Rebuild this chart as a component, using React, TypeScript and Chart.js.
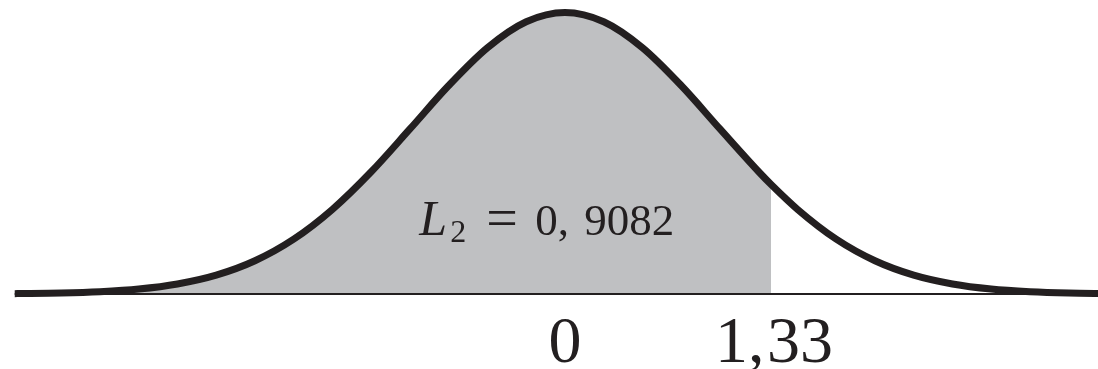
import React, { useEffect, useRef } from "react";
import { Chart, registerables } from "chart.js";

Chart.register(...registerables);

// Standard-normal-like bell curve, sampled along the z axis
const zValues = [
  -3.55, -3.5, -3.25, -3, -2.75, -2.5, -2.25, -2, -1.75, -1.5, -1.25, -1, -0.75, -0.5, -0.25,
  0, 0.25, 0.5, 0.75, 1, 1.25, 1.33, 1.5, 1.75, 2, 2.25, 2.5, 2.75, 3, 3.25, 3.5,
];
const densityValues = [
  0.0005, 0.0006, 0.0014, 0.0033, 0.007, 0.0142, 0.0267, 0.0471, 0.0777, 0.12, 0.1732, 0.2339,
  0.2954, 0.349, 0.3858, 0.3989, 0.3858, 0.349, 0.2954, 0.2339, 0.1732, 0.1551, 0.12, 0.0777,
  0.0471, 0.0267, 0.0142, 0.007, 0.0033, 0.0014, 0.0006,
];

// Shaded area ends at this z value
const cutoff = 1.33;
const areaLabel = "0, 9082";
const tickLabels = [
  { value: 0, text: "0" },
  { value: 1.33, text: "1, 33" },
];

const INK = "#231f20";
const SHADE = "#bfc0c2";

const textPlugin = {
  id: "curveText",
  afterDatasetsDraw(chart: any) {
    const { ctx, scales } = chart;
    const xs = scales.x;
    const ys = scales.y;
    ctx.save();
    ctx.fillStyle = INK;
    ctx.textBaseline = "alphabetic";
    ctx.textAlign = "left";

    // Area label: L_2 = 0, 9082
    const lx = xs.getPixelForValue(-0.92);
    const ly = ys.getPixelForValue(0.0836);
    ctx.font = "italic 50px 'Liberation Serif'";
    ctx.fillText("L", lx - 3, ly);
    ctx.font = "32px 'Liberation Serif'";
    ctx.fillText("2", lx + 28, ly + 7);
    ctx.font = "56px 'Liberation Serif'";
    ctx.fillText("=", lx + 64, ly + 2);
    ctx.font = "45px 'Liberation Serif'";
    const parts = areaLabel.split(" ");
    ctx.fillText(parts[0], lx + 113, ly);
    ctx.fillText(parts[1], lx + 162, ly);

    // Axis labels under the baseline
    ctx.font = "66px 'Liberation Serif'";
    const by = ys.getPixelForValue(0) + 68;
    tickLabels.forEach((t) => {
      const px = xs.getPixelForValue(t.value);
      const pieces = t.text.split(" ");
      if (pieces.length === 1) {
        ctx.textAlign = "center";
        ctx.fillText(pieces[0], px, by);
      } else {
        ctx.textAlign = "left";
        ctx.fillText(pieces[0], px - 56, by);
        ctx.fillText(pieces[1], px - 4, by);
      }
    });
    ctx.restore();
  },
};

export default function App() {
  const canvasRef = useRef<HTMLCanvasElement | null>(null);

  useEffect(() => {
    if (!canvasRef.current) return;
    const curve = zValues.map((z, i) => ({ x: z, y: densityValues[i] }));
    const shaded = zValues.map((z, i) => ({ x: z, y: z <= cutoff ? densityValues[i] : null }));
    const baseline = [
      { x: zValues[0], y: 0 },
      { x: zValues[zValues.length - 1], y: 0 },
    ];

    const chart = new Chart(canvasRef.current, {
      type: "line",
      data: {
        datasets: [
          {
            data: shaded as any,
            fill: "origin",
            backgroundColor: SHADE,
            borderWidth: 0,
            pointRadius: 0,
            cubicInterpolationMode: "monotone",
            spanGaps: false,
            order: 3,
          },
          {
            data: baseline,
            borderColor: INK,
            borderWidth: 2.2,
            pointRadius: 0,
            fill: false,
            order: 2,
          },
          {
            data: curve,
            borderColor: INK,
            borderWidth: 7,
            pointRadius: 0,
            fill: false,
            cubicInterpolationMode: "monotone",
            order: 1,
          },
        ],
      },
      options: {
        animation: false,
        responsive: false,
        devicePixelRatio: 1,
        layout: { padding: 0 },
        plugins: { legend: { display: false }, tooltip: { enabled: false } },
        scales: {
          x: { type: "linear", min: -3.645, max: 3.439, display: false },
          y: { type: "linear", min: -0.1063, max: 0.4166, display: false },
        },
      },
      plugins: [textPlugin],
    });
    return () => chart.destroy();
  }, []);

  return (
    <div style={{ position: "absolute", left: 0, top: 0, width: 1098, height: 369, background: "#fff" }}>
      <canvas ref={canvasRef} width={1098} height={369} style={{ display: "block" }} />
    </div>
  );
}
